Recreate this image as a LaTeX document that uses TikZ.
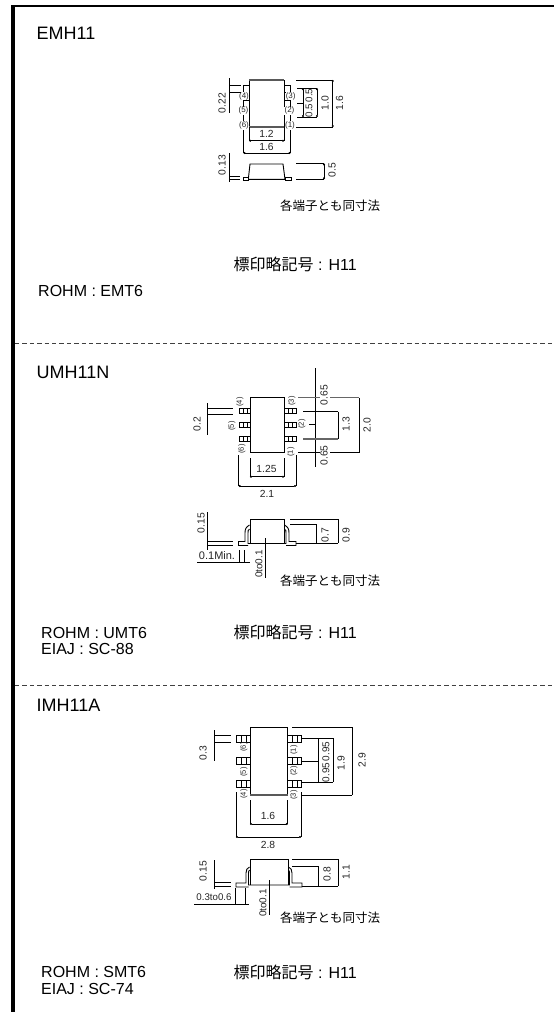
\documentclass[tikz,border=0pt]{standalone}
\usepackage{fontspec}
\setmainfont{Liberation Sans}
\newfontfamily\cjk{Noto Sans CJK JP}
\usetikzlibrary{arrows.meta}
\tikzset{
 x=1pt,y=-1pt,
 thinln/.style={line width=0.7pt,black},
 dimln/.style={line width=0.7pt,black,{Circle[length=2pt]}-{Circle[length=2pt]}},
 body/.style={line width=0.9pt,black},
 greyedge/.style={line width=1.6pt,black!65},
 greyln/.style={line width=1.1pt,black!60},
 pinbox/.style={draw=black,line width=0.6pt,fill=white},
 lbl/.style={inner sep=0pt,font=\fontsize{10.3}{11}\selectfont,text=black!85},
 rl/.style={lbl,rotate=90},
 pn/.style={inner sep=0pt,font=\fontsize{7.6}{8}\selectfont,rotate=90,text=black!85},
 pns/.style={inner sep=0pt,font=\fontsize{8}{9}\selectfont,text=black!85},
 ttl/.style={inner sep=0pt,anchor=west,font=\fontsize{18}{18}\selectfont},
 txt/.style={inner sep=0pt,anchor=west,font=\fontsize{16}{16}\selectfont},
 jp/.style={inner sep=0pt,anchor=west,font=\cjk\fontsize{12.5}{13}\selectfont},
 jpb/.style={inner sep=0pt,anchor=west,font=\fontsize{16}{16}\selectfont},
 frameln/.style={black},
 sep/.style={line width=0.9pt,black!75,dash pattern=on 4.4pt off 3pt},
}
\begin{document}
\begin{tikzpicture}
\useasboundingbox (0,0) rectangle (554,1012);
\fill[white] (0,0) rectangle (554,1012);
% frame
\draw[frameln,line width=3.6pt] (13,1012) -- (13,4.8);
\draw[frameln,line width=2.4pt] (11.2,6) -- (554,6);
\draw[sep] (15,343) -- (554,343);
\draw[sep] (15,685) -- (554,685);
% ---- EMH11
\node[ttl] (t1) at (36.5,33) {EMH11};
\draw[body] (249.3,80) rectangle (284,127);
\draw[greyedge] (249.3,80) -- (284,80);
\draw[greyedge] (249.3,127) -- (284,127);
\foreach \y in {85,100,114}{
 \draw[pinbox] (243,\y) rectangle (249.3,\y+7);
 \draw[pinbox] (284,\y) rectangle (290.5,\y+7);
}
\node[pns,fill=white,inner sep=0.2pt] (a4) at (244,96) {(4)};
\node[pns,fill=white,inner sep=0.2pt] (a5) at (243.5,110.7) {(5)};
\node[pns,fill=white,inner sep=0.2pt] (a6) at (244,125) {(6)};
\node[pns,fill=white,inner sep=0.2pt] (a3) at (290.7,96) {(3)};
\node[pns,fill=white,inner sep=0.2pt] (a2) at (289.5,110.7) {(2)};
\node[pns,fill=white,inner sep=0.2pt] (a1) at (290,125) {(1)};
\draw[thinln] (229,78) -- (229,113);
\draw[thinln] (229,85) -- (241,85) (229,92.5) -- (241,92.5);
\node[rl] (d1) at (222,103) {0.22};
\draw[thinln] (297,88.3) -- (317,88.3) (297,117) -- (317,117) (297,103) -- (303,103);
\draw[dimln] (303,88.3) -- (303,117);
\draw[dimln] (317,88.3) -- (317,117);
\node[rl,font=\fontsize{9.8}{10}\selectfont] (d2) at (309,103) {0.5\,0.5};
\node[rl] (d3) at (325,103) {1.0};
\draw[thinln] (296,80) -- (333,80) (296,127) -- (333,127);
\draw[dimln] (332.7,80) -- (332.7,127);
\node[rl] (d4) at (339.5,103) {1.6};
\draw[thinln] (249.3,127) -- (249.3,141) (284,127) -- (284,141);
\draw[dimln] (249.3,140.7) -- (284,140.7);
\node[lbl] (d5) at (266.5,134) {1.2};
\draw[thinln] (243.5,130) -- (243.5,153) (290.5,130) -- (290.5,153);
\draw[dimln] (243.5,153) -- (290.5,153);
\node[lbl] (d6) at (266.5,147) {1.6};
\draw[body] (248.3,179.3) -- (250,164) -- (283,164) -- (285,179.3) -- cycle;
\draw[pinbox] (243,177) rectangle (248.3,179.8);
\draw[pinbox] (285,177) rectangle (291,179.8);
\draw[thinln] (229,153) -- (229,182);
\draw[thinln] (229,176) -- (240,176) (229,179.3) -- (240,179.3);
\node[rl] (d7) at (222,165) {0.13};
\draw[thinln] (296,163.5) -- (324,163.5) (296,179.3) -- (324,179.3);
\draw[dimln] (324,163.5) -- (324,179.3);
\node[rl] (d8) at (332,170) {0.5};
\node[jp] (j1) at (280,206) {各端子とも同寸法};
\node[jpb] (m1) at (233.5,264) {{\cjk 標印略記号} : H11};
\node[txt] (r1) at (38,291) {ROHM : EMT6};
% ---- UMH11N
\node[ttl] (t2) at (36.5,372) {UMH11N};
\draw[body] (250,397.3) rectangle (284,452.7);
\foreach \y in {408,422,436}{
 \draw[pinbox] (239,\y) rectangle (250,\y+5.5);
 \draw[pinbox] (284,\y) rectangle (296,\y+5.5);
 \draw[thinln] (243.5,\y) -- (243.5,\y+5.5) (247,\y) -- (247,\y+5.5);
 \draw[thinln] (288,\y) -- (288,\y+5.5) (292,\y) -- (292,\y+5.5);
}
\node[pn] (b4) at (240,402) {(4)};
\node[pn] (b5) at (232,426) {(5)};
\node[pn] (b6) at (242,449) {(6)};
\node[pn] (b3) at (292,401) {(3)};
\node[pn] (b2) at (302,424) {(2)};
\node[pn] (b1) at (291,452) {(1)};
\draw[thinln] (207,403) -- (207,435);
\draw[thinln] (207,408) -- (233,408) (207,414) -- (233,414);
\node[rl] (e1) at (197,424) {0.2};
\draw[thinln] (315,368) -- (315,467);
\draw[greyln] (298,397.6) -- (320,397.6) (330,397.6) -- (359,397.6);
\draw[thinln] (298,452.7) -- (320,452.7) (330,452.7) -- (359,452.7);
\draw[thinln] (303,411.7) -- (338,411.7) (309,424) -- (315,424);
\draw[greyln] (303,439) -- (338,439);
\draw[thinln] (338,411.7) -- (338,439);
\draw[thinln] (359,397.6) -- (359,452.7);
\node[rl] (e2) at (324,395) {0.65};
\node[rl] (e3) at (324,455.5) {0.65};
\node[rl] (e4) at (346,424) {1.3};
\node[rl] (e5) at (367,425) {2.0};
\draw[thinln] (250,458) -- (250,477) (284,458) -- (284,477);
\draw[dimln] (250,476.7) -- (284,476.7);
\node[lbl] (e6) at (266.5,469) {1.25};
\draw[thinln] (238.7,455) -- (238.7,486) (296,455) -- (296,486);
\draw[dimln] (238.7,486) -- (296,486);
\node[lbl] (e7) at (267,494) {2.1};
\draw[body] (250,519) -- (284,519);
\draw[thinln] (250,519) -- (250,544) (284,519) -- (284,544);
\draw[body] (249.5,525) .. controls (246,527) and (245,529) .. (245,533) -- (245,541.5) -- (238.5,541.5) -- (238.5,545.5) -- (248,545.5);
\draw[body] (284.5,525) .. controls (288,527) and (289,529) .. (289,533) -- (289,541.5) -- (296,541.5) -- (296,545.5) -- (286,545.5);
\draw[body] (249.5,529) .. controls (248,530) and (248,531) .. (248,533) -- (248,543.5) -- (286,543.5) -- (286,533) .. controls (286,531) and (286,530) .. (284.5,529);
\draw[thinln] (207,512) -- (207,550);
\draw[thinln] (207,541.5) -- (233,541.5) (207,545.5) -- (233,545.5);
\node[rl] (e8) at (201,523) {0.15};
\node[lbl,font=\fontsize{11}{11}\selectfont] (e9) at (217,555.5) {0.1Min.};
\draw[thinln] (197,562) -- (250,562);
\draw[thinln] (239,550) -- (239,562) (244,550) -- (244,562);
\draw[thinln] (265,538) -- (265,578);
\node[rl,font=\fontsize{10}{10}\selectfont] (e10) at (259,564) {0to0.1};
\draw[thinln] (290,519) -- (338,519) (290,524) -- (316,524) (296,543) -- (338,543);
\draw[thinln] (316,524) -- (316,543) (338,519) -- (338,543);
\node[rl] (e11) at (325,535) {0.7};
\node[rl] (e12) at (346,535) {0.9};
\node[jp] (j2) at (280,581) {各端子とも同寸法};
\node[jpb] (m2) at (233.5,632) {{\cjk 標印略記号} : H11};
\node[txt] (r2) at (41,632.7) {ROHM : UMT6};
\node[txt] (r3) at (41,649) {EIAJ : SC-88};
% ---- IMH11A
\node[ttl] (t3) at (36.5,705) {IMH11A};
\draw[body] (250,727) rectangle (287.7,795);
\draw[greyedge] (250,795) -- (287.7,795);
\foreach \y in {735,757.5,780}{
 \draw[pinbox] (236.7,\y) rectangle (250,\y+7);
 \draw[pinbox] (287.7,\y) rectangle (301,\y+7);
 \draw[thinln] (241.5,\y) -- (241.5,\y+7) (246.5,\y) -- (246.5,\y+7);
 \draw[thinln] (292,\y) -- (292,\y+7) (297,\y) -- (297,\y+7);
}
\node[pn] (c6) at (244,747) {(6)};
\node[pn] (c5) at (244,772) {(5)};
\node[pn] (c4) at (244,794) {(4)};
\node[pn] (c1) at (294,750) {(1)};
\node[pn] (c2) at (294,771) {(2)};
\node[pn] (c3) at (294,795) {(3)};
\draw[thinln] (214,730) -- (214,761);
\draw[thinln] (214,735) -- (231,735) (214,742) -- (231,742);
\node[rl] (f1) at (203,753) {0.3};
\draw[thinln] (302,738) -- (333,738) (302,761) -- (318,761) (302,782) -- (333,782);
\draw[thinln] (318,738) -- (318,782) (333,738) -- (333,782);
\node[rl,font=\fontsize{10}{10}\selectfont] (f2) at (326,762) {0.95\,0.95};
\node[rl] (f3) at (341,763) {1.9};
\draw[thinln] (292,727) -- (352,727) (301,795) -- (352,795) (352,727) -- (352,795);
\node[rl] (f4) at (362,760) {2.9};
\draw[thinln] (250,800) -- (250,824) (287.7,800) -- (287.7,824);
\draw[dimln] (250,824) -- (287.7,824);
\node[lbl] (f5) at (268,816) {1.6};
\draw[thinln] (236,792) -- (236,837) (301,792) -- (301,837);
\draw[dimln] (236,837) -- (301,837);
\node[lbl] (f6) at (268,845) {2.8};
\draw[body] (250,859) -- (288,859);
\draw[thinln] (250,859) -- (250,885) (288,859) -- (288,885);
\draw[body] (249.5,867) .. controls (247,868) and (246,870) .. (246,873) -- (246,883) -- (236,883) -- (236,887) -- (248.5,887);
\draw[body] (288.5,867) .. controls (291,868) and (292,870) .. (292,873) -- (292,883) -- (302,883) -- (302,887) -- (289.5,887);
\draw[body] (249.5,870) .. controls (248.5,871) and (248.5,872) .. (248.5,874) -- (248.5,885) -- (289.5,885) -- (289.5,874) .. controls (289.5,872) and (289.5,871) .. (288.5,870);
\draw[thinln] (214,860) -- (214,889);
\draw[thinln] (214,882) -- (231,882) (214,886) -- (231,886);
\node[rl] (f7) at (203,871) {0.15};
\node[lbl,font=\fontsize{9.7}{10}\selectfont] (f8) at (214,897) {0.3to0.6};
\draw[thinln] (194,904) -- (249,904) (235,888) -- (235,904) (245,888) -- (245,904);
\draw[thinln] (269,880) -- (269,915);
\node[rl,font=\fontsize{10}{10}\selectfont] (f9) at (263,903) {0to0.1};
\draw[thinln] (292,859) -- (338,859) (292,866) -- (318,866) (302,886) -- (338,886);
\draw[thinln] (318,866) -- (318,886) (338,859) -- (338,886);
\node[rl] (f10) at (327,874) {0.8};
\node[rl] (f11) at (346,872) {1.1};
\node[jp] (j3) at (280,918) {各端子とも同寸法};
\node[jpb] (m3) at (233.5,972) {{\cjk 標印略記号} : H11};
\node[txt] (r4) at (41,972) {ROHM : SMT6};
\node[txt] (r5) at (41,988.5) {EIAJ : SC-74};
\end{tikzpicture}
\end{document}
